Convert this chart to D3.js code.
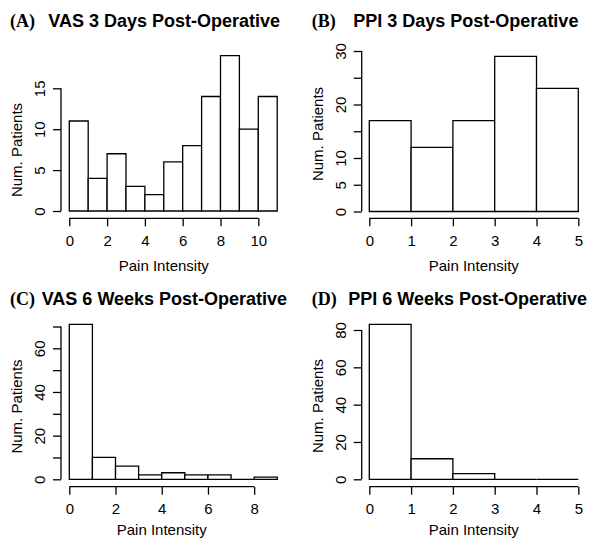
<!DOCTYPE html>
<html>
<head>
<meta charset="utf-8">
<script src="https://cdn.jsdelivr.net/npm/d3@7"></script>
<style>
  html, body { margin: 0; padding: 0; background: #fff; }
  svg { display: block; }
  .tick text { font-family: "Liberation Sans", Arial, sans-serif; font-size: 15px; fill: #000; }
</style>
</head>
<body>
<svg id="chart" width="600" height="547"></svg>
<script>
// ---- Data ----
const vas3Counts = [11, 4, 7, 3, 2, 6, 8, 14, 19, 10, 14];   // bins 0-1 ... 10-11
const ppi3Counts = [17, 12, 17, 29, 23];                      // bins 0-1 ... 4-5
const vas6Counts = [71, 10, 6, 2, 3, 2, 2, 0, 1];             // bins 0-1 ... 8-9
const ppi6Counts = [83, 11, 3, 0, 0];                         // bins 0-1 ... 4-5

const vas3XTicks = [0, 2, 4, 6, 8, 10];
const ppi3XTicks = [0, 1, 2, 3, 4, 5];
const vas6XTicks = [0, 2, 4, 6, 8];
const ppi6XTicks = [0, 1, 2, 3, 4, 5];

const vas3YTicks = [0, 5, 10, 15];
const vas3YLabels = ["0", "5", "10", "15"];
const ppi3YTicks = [0, 5, 10, 15, 20, 25, 30];
const ppi3YLabels = ["0", "5", "10", "", "20", "", "30"];
const vas6YTicks = [0, 10, 20, 30, 40, 50, 60, 70];
const vas6YLabels = ["0", "", "20", "", "40", "", "60", ""];
const ppi6YTicks = [0, 20, 40, 60, 80];
const ppi6YLabels = ["0", "20", "40", "60", "80"];

const panelLetters = ["(A)", "(B)", "(C)", "(D)"];
const panelTitles = ["VAS 3 Days Post-Operative", "PPI 3 Days Post-Operative",
                     "VAS 6 Weeks Post-Operative", "PPI 6 Weeks Post-Operative"];
const xTitle = "Pain Intensity";
const yTitle = "Num. Patients";

// ---- Layout ----
const panels = [
  { counts: vas3Counts, xTicks: vas3XTicks, yTicks: vas3YTicks, yLabels: vas3YLabels,
    xDom: [0, 11], xRange: [69.3, 277.2], yDom: [0, 15], yRange: [211, 88.3],
    yAxisX: 61, xAxisY: 218.3, letterX: 10, titleX: 48.3, titleY: 26.7,
    yTitleX: 17, yTitleY: 150, xTitleY: 266 },
  { counts: ppi3Counts, xTicks: ppi3XTicks, yTicks: ppi3YTicks, yLabels: ppi3YLabels,
    xDom: [0, 5], xRange: [369.3, 578.3], yDom: [0, 30], yRange: [211.5, 51],
    yAxisX: 361.7, xAxisY: 218.3, letterX: 311.7, titleX: 353.3, titleY: 26.7,
    yTitleX: 318, yTitleY: 134, xTitleY: 266 },
  { counts: vas6Counts, xTicks: vas6XTicks, yTicks: vas6YTicks, yLabels: vas6YLabels,
    xDom: [0, 9], xRange: [69.3, 277.3], yDom: [0, 70], yRange: [479.3, 326.5],
    yAxisX: 61, xAxisY: 486.7, letterX: 10, titleX: 41.7, titleY: 305,
    yTitleX: 17, yTitleY: 406.5, xTitleY: 530 },
  { counts: ppi6Counts, xTicks: ppi6XTicks, yTicks: ppi6YTicks, yLabels: ppi6YLabels,
    xDom: [0, 5], xRange: [369.3, 578.3], yDom: [0, 80], yRange: [479.3, 330],
    yAxisX: 361.7, xAxisY: 486.7, letterX: 311.7, titleX: 348.3, titleY: 305,
    yTitleX: 318, yTitleY: 406, xTitleY: 530 }
];

const svg = d3.select("#chart");
svg.append("rect").attr("width", 600).attr("height", 547).attr("fill", "#fff");

const SW = 1.3;

panels.forEach((p, i) => {
  const x = d3.scaleLinear().domain(p.xDom).range(p.xRange);
  const y = d3.scaleLinear().domain(p.yDom).range(p.yRange);
  const g = svg.append("g");

  // bars (drawn as closed paths so zero-count bins still show their outline)
  const bins = p.counts.map((c, k) => ({ x0: k, x1: k + 1, c }));
  g.selectAll("path.bar").data(bins).join("path")
    .attr("class", "bar")
    .attr("d", d => {
      const p0 = d3.path();
      p0.rect(x(d.x0), y(d.c), x(d.x1) - x(d.x0), y(0) - y(d.c));
      return p0.toString();
    })
    .attr("fill", "#fff")
    .attr("stroke", "#000")
    .attr("stroke-width", SW);

  // x axis
  const xa = g.append("g").attr("transform", `translate(0,${p.xAxisY})`)
    .call(d3.axisBottom(x).tickValues(p.xTicks).tickSize(8).tickSizeOuter(0).tickPadding(9)
      .tickFormat(d3.format("d")));
  xa.select(".domain").remove();
  xa.append("line")
    .attr("x1", x(p.xTicks[0])).attr("x2", x(p.xTicks[p.xTicks.length - 1]))
    .attr("stroke", "#000").attr("stroke-width", SW);
  xa.selectAll(".tick line").attr("stroke", "#000").attr("stroke-width", SW);

  // y axis
  const ya = g.append("g").attr("transform", `translate(${p.yAxisX},0)`)
    .call(d3.axisLeft(y).tickValues(p.yTicks).tickSize(8).tickSizeOuter(0)
      .tickFormat((d, k) => p.yLabels[k]));
  ya.select(".domain").remove();
  ya.append("line")
    .attr("y1", y(p.yTicks[0])).attr("y2", y(p.yTicks[p.yTicks.length - 1]))
    .attr("stroke", "#000").attr("stroke-width", SW);
  ya.selectAll(".tick line").attr("stroke", "#000").attr("stroke-width", SW);
  ya.selectAll(".tick text")
    .attr("transform", "rotate(-90)")
    .attr("x", 0).attr("y", -21).attr("dy", "0.35em")
    .attr("text-anchor", "middle");

  // titles
  svg.append("text")
    .attr("x", p.letterX).attr("y", p.titleY)
    .attr("font-family", "'Liberation Serif', 'Times New Roman', serif")
    .attr("font-weight", "bold").attr("font-size", 18)
    .text(panelLetters[i]);
  svg.append("text")
    .attr("x", p.titleX).attr("y", p.titleY)
    .attr("font-family", "'Liberation Sans', Arial, sans-serif")
    .attr("font-weight", "bold").attr("font-size", 18)
    .text(panelTitles[i]);

  // axis titles
  svg.append("text")
    .attr("x", (p.xRange[0] + x(p.xTicks[p.xTicks.length - 1])) / 2)
    .attr("y", p.xTitleY).attr("dy", "0.35em")
    .attr("text-anchor", "middle")
    .attr("font-family", "'Liberation Sans', Arial, sans-serif").attr("font-size", 15)
    .text(xTitle);
  svg.append("text")
    .attr("transform", `translate(${p.yTitleX},${p.yTitleY}) rotate(-90)`)
    .attr("dy", "0.35em")
    .attr("text-anchor", "middle")
    .attr("font-family", "'Liberation Sans', Arial, sans-serif").attr("font-size", 15)
    .text(yTitle);
});
</script>
</body>
</html>
